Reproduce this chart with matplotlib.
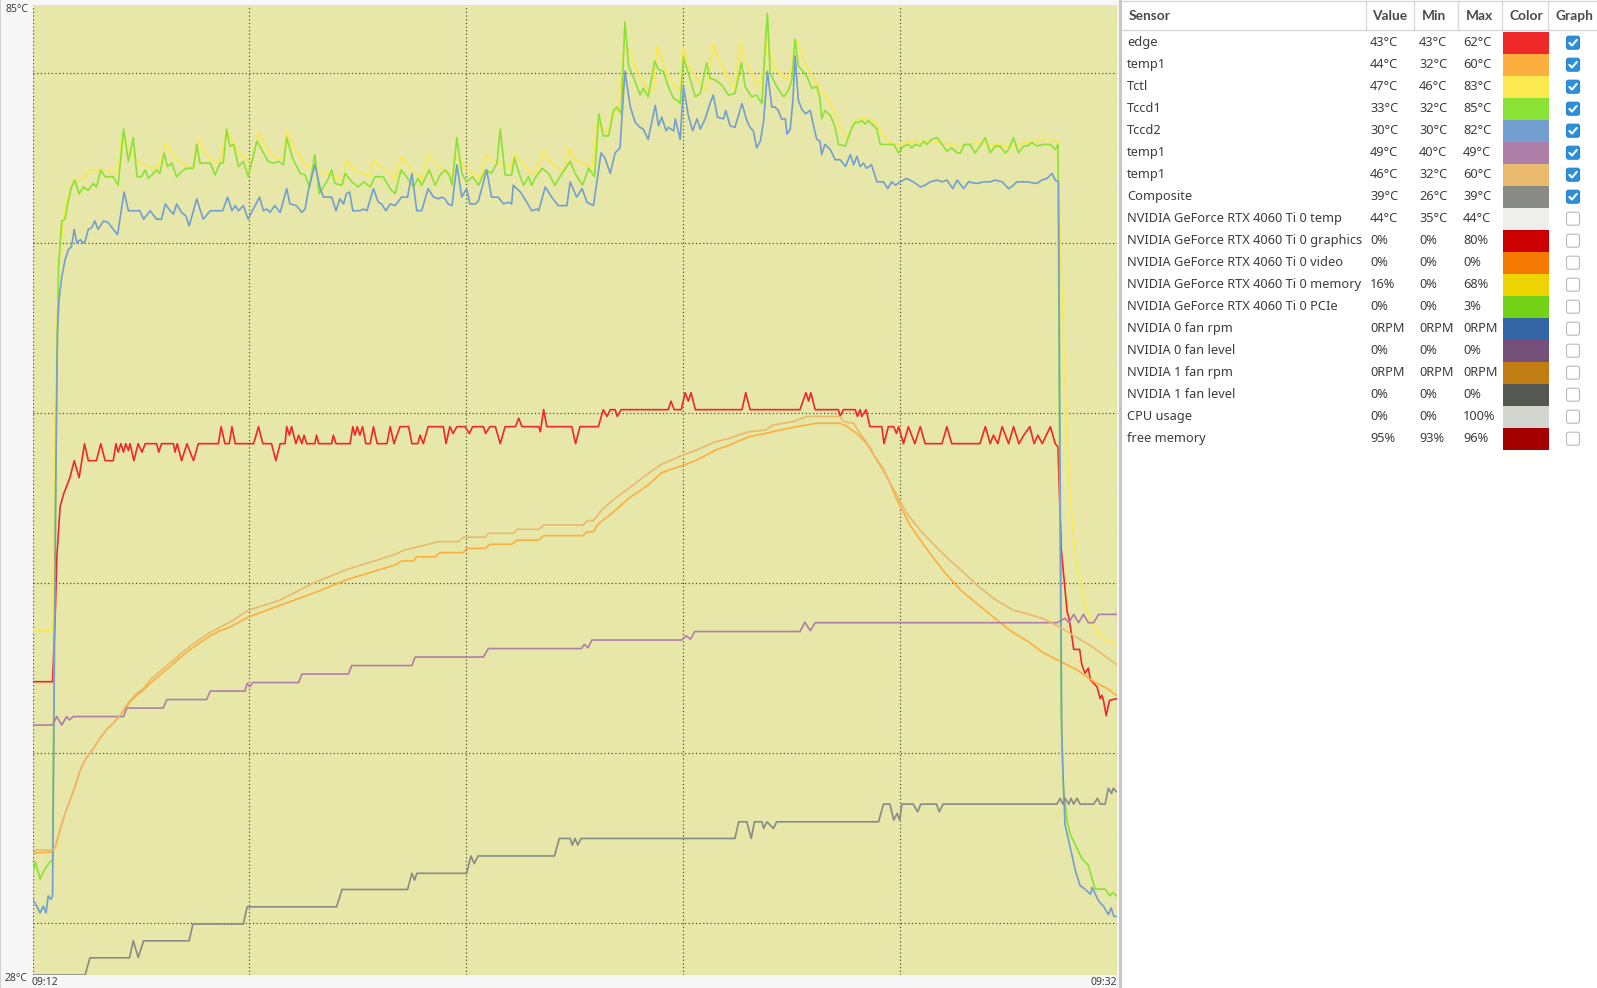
import matplotlib
matplotlib.use("Agg")
import matplotlib.pyplot as plt
from matplotlib.patches import Rectangle, FancyBboxPatch

W, H = 1597, 988
FONT = ['Noto Sans', 'DejaVu Sans']
HFONT = ['Lato', 'DejaVu Sans']
TXT = '#3c3c3c'

# ---------------- data (time in minutes since 09:12, value in °C) ----------------
edge = [(0,45),(0.37,45),(0.42,49),(0.45,52.4),(0.51,55.3),(0.57,56),(0.63,56.5),(0.69,57),(0.77,58),(0.86,57),(0.96,59),(1.03,58),(1.18,58),(1.26,59),(1.34,58),(1.49,58),(1.54,59),(1.58,58.5),(1.63,59),(1.68,58.5),(1.72,59),(1.77,58.6),(1.80,59),(1.87,58),(1.95,59),(2.02,58.5),(2.08,59),(2.29,59),(2.33,58.5),(2.38,59),(2.60,59),(2.63,58.5),(2.67,59),(2.75,58),(2.85,59),(2.97,58),(3.06,59),(3.43,59),(3.48,60),(3.55,59),(3.63,59),(3.68,60),(3.74,59),(4.08,59),(4.17,60),(4.25,59),(4.41,59),(4.49,58),(4.57,59),(4.66,59),(4.69,60),(4.74,59.5),(4.78,60),(4.86,59),(4.91,59.5),(4.97,59),(5.01,59.5),(5.06,59),(5.21,59),(5.24,59.5),(5.28,59),(5.52,59),(5.55,59.5),(5.60,59),(5.86,59),(5.91,60),(5.95,59.5),(5.99,60),(6.04,59.5),(6.09,60),(6.15,59),(6.23,59),(6.29,60),(6.36,59),(6.54,59),(6.60,60),(6.67,59),(6.78,60),(6.94,60),(7.00,59),(7.11,59),(7.15,59.5),(7.21,59),(7.30,60),(7.58,60),(7.63,59),(7.70,60),(7.76,59.6),(7.83,60),(7.98,60),(8.06,59.6),(8.12,60),(8.32,60),(8.36,59.6),(8.44,60),(8.54,60),(8.63,59),(8.72,60),(8.91,60),(8.97,60.5),(9.03,60),(9.34,60),(9.37,59.7),(9.43,61),(9.49,60),(9.95,60),(10.02,59),(10.10,60),(10.44,60),(10.53,61),(10.60,60.6),(10.66,61),(10.75,61),(10.79,60.6),(10.86,61),(11.73,61),(11.78,61.5),(11.84,61),(11.97,61),(12.04,62),(12.10,61.5),(12.15,62),(12.23,61),(13.09,61),(13.16,62),(13.24,61),(14.16,61),(14.27,62),(14.32,61.5),(14.36,62),(14.44,61),(14.87,61),(14.90,60.6),(14.96,61),(15.18,61),(15.22,60.6),(15.27,61),(15.30,60.6),(15.38,61),(15.45,60),(15.67,60),(15.71,59),(15.79,60),(15.89,60),(15.94,59.6),(15.98,60),(16.07,59),(16.16,60),(16.28,59),(16.38,60),(16.47,59),(16.78,59),(16.87,60),(16.96,59),(17.48,59),(17.58,60),(17.67,59),(17.73,59.5),(17.81,59),(17.89,60),(18.01,59),(18.10,60),(18.20,59),(18.29,59.5),(18.40,60),(18.48,59),(18.55,59.5),(18.63,59),(18.78,60),(18.87,59),(18.92,58.8),(18.98,52.8),(19.09,49.1),(19.12,48.8),(19.18,47.6),(19.21,46.9),(19.32,46.9),(19.36,46.0),(19.42,45.5),(19.48,45.8),(19.52,45.1),(19.64,44.7),(19.70,44.0),(19.73,44.2),(19.76,43.9),(19.81,43.0),(19.87,43.9),(20.0,44)]

temp1_a = [(0,34.9),(0.37,35.0),(0.42,35.3),(0.51,36.3),(0.60,37.25),(0.69,38.0),(0.78,38.8),(0.88,39.8),(0.97,40.4),(1.06,40.8),(1.15,41.2),(1.25,41.7),(1.37,42.2),(1.49,42.55),(1.61,43.0),(1.71,43.4),(1.80,43.8),(1.92,44.2),(2.05,44.5),(2.17,44.9),(2.35,45.4),(2.54,45.9),(2.72,46.4),(2.91,46.9),(3.09,47.3),(3.28,47.7),(3.46,48.0),(3.64,48.2),(3.98,48.8),(4.57,49.5),(5.18,50.2),(5.80,51.0),(6.41,51.6),(6.69,51.86),(6.81,52.1),(7.03,52.1),(7.09,52.35),(7.43,52.35),(7.52,52.59),(7.95,52.59),(8.01,52.84),(8.35,52.84),(8.44,53.08),(8.84,53.08),(8.94,53.33),(9.34,53.33),(9.43,53.59),(10.16,53.59),(10.23,53.82),(10.35,53.82),(10.44,54.3),(10.69,54.9),(11.00,55.78),(11.36,56.57),(11.61,57.3),(11.98,57.7),(12.23,58.0),(12.59,58.6),(12.84,58.9),(13.21,59.4),(13.52,59.6),(13.79,59.8),(14.10,60.0),(14.47,60.2),(14.90,60.2),(15.03,60.0),(15.21,59.6),(15.39,59.0),(15.55,58.2),(15.70,57.5),(15.79,56.9),(15.95,55.7),(16.19,54.2),(16.50,52.8),(16.81,51.5),(17.12,50.4),(17.42,49.6),(17.73,48.8),(18.04,48.0),(18.35,47.4),(18.65,46.7),(18.96,46.2),(19.27,45.7),(19.58,45.0),(19.83,44.6),(20.0,44.2)]

tctl = [(0,48),(0.37,48),(0.41,60),(0.45,66),(0.50,70),(0.57,72.2),(0.63,73.3),(0.72,74.1),(0.82,74.5),(0.94,74.6),(1.06,75.1),(1.18,75.1),(1.28,75.1),(1.43,75.1),(1.58,74.9),(1.65,77.1),(1.74,76.5),(1.86,75.9),(1.98,75.5),(2.11,75.3),(2.29,75.2),(2.41,75.9),(2.45,76.7),(2.54,76.3),(2.66,75.7),(2.84,75.3),(2.97,75.2),(3.06,76.9),(3.18,76.1),(3.31,75.7),(3.46,75.5),(3.58,77.4),(3.68,76.9),(3.80,76.1),(3.98,75.7),(4.04,75.5),(4.17,77.3),(4.26,76.7),(4.38,76.1),(4.51,75.8),(4.63,75.8),(4.69,77.4),(4.81,76.5),(4.94,75.9),(5.06,75.3),(5.18,75.2),(5.31,75.0),(5.49,74.8),(5.61,74.7),(5.74,74.4),(5.79,75.7),(5.89,75.3),(6.01,74.9),(6.11,74.9),(6.23,74.7),(6.30,75.7),(6.41,75.3),(6.54,75.0),(6.69,74.5),(6.80,75.9),(6.94,75.3),(7.06,74.9),(7.18,74.5),(7.30,76.0),(7.43,75.5),(7.55,75.1),(7.67,75.0),(7.74,74.5),(7.80,75.9),(7.92,75.5),(8.04,75.1),(8.17,74.8),(8.26,74.6),(8.38,76.0),(8.47,75.7),(8.66,75.5),(8.81,75.2),(8.90,76.0),(9.03,75.5),(9.15,75.1),(9.27,74.8),(9.43,76.2),(9.52,75.7),(9.70,75.2),(9.83,75.0),(9.90,76.4),(10.01,75.7),(10.14,75.5),(10.32,75.2),(10.41,77.8),(10.55,77.5),(10.63,77.3),(10.69,78.4),(10.81,78.6),(10.90,82.0),(11.00,82.2),(11.12,81.2),(11.24,80.4),(11.36,79.8),(11.46,79.8),(11.52,82.4),(11.61,81.6),(11.73,80.6),(11.86,80.0),(11.95,79.7),(12.01,82.3),(12.10,81.2),(12.23,80.6),(12.35,80.0),(12.44,79.8),(12.56,82.5),(12.66,81.6),(12.78,80.8),(12.90,80.2),(12.96,79.8),(13.06,82.6),(13.15,81.6),(13.27,80.8),(13.40,80.0),(13.49,81.0),(13.55,82.7),(13.67,81.2),(13.79,80.8),(13.92,80.4),(14.01,81.2),(14.07,82.7),(14.13,82.6),(14.22,81.6),(14.35,80.8),(14.47,80.2),(14.56,79.6),(14.66,79.4),(14.78,78.6),(14.90,77.6),(15.03,76.9),(15.12,77.6),(15.18,78.0),(15.27,78.1),(15.39,78.1),(15.51,78.0),(15.61,77.6),(15.70,77.1),(15.82,76.7),(15.95,76.6),(16.13,76.7),(16.25,76.8),(16.38,76.7),(16.50,76.8),(16.75,76.7),(16.93,76.6),(17.12,76.5),(17.24,76.6),(17.42,76.7),(17.73,76.6),(17.98,76.5),(18.16,76.5),(18.29,76.7),(18.47,76.8),(18.65,76.9),(18.78,76.9),(18.92,76.7),(18.96,71.4),(19.02,65.5),(19.08,59.6),(19.12,57.2),(19.18,54.5),(19.24,52.5),(19.33,51.0),(19.42,49.6),(19.52,48.6),(19.64,47.9),(19.83,47.4),(20.0,47.2)]

tccd1 = [(0,33.6),(0.05,34.4),(0.14,33.4),(0.23,34.0),(0.32,34.4),(0.37,34.5),(0.41,50),(0.45,63.5),(0.48,69.4),(0.54,72.1),(0.60,72.2),(0.66,73.3),(0.72,74.1),(0.78,74.5),(0.86,73.7),(0.94,74.1),(1.03,73.9),(1.12,74.3),(1.18,74.1),(1.26,75.1),(1.34,74.7),(1.49,74.7),(1.58,74.2),(1.68,77.5),(1.77,75.6),(1.86,77.0),(1.93,74.7),(2.01,74.7),(2.08,75.1),(2.14,74.6),(2.29,75.1),(2.35,74.9),(2.43,76.1),(2.49,75.3),(2.57,75.5),(2.66,74.7),(2.75,75.0),(2.84,75.2),(2.97,75.2),(3.03,76.6),(3.09,75.5),(3.18,75.5),(3.28,75.5),(3.37,74.8),(3.46,75.5),(3.52,75.5),(3.58,77.5),(3.64,76.5),(3.71,76.6),(3.80,75.3),(3.89,75.6),(3.98,74.7),(4.04,75.5),(4.14,76.8),(4.26,76.1),(4.35,75.6),(4.44,75.5),(4.54,75.6),(4.63,75.4),(4.69,77.0),(4.81,75.7),(4.94,74.9),(5.03,74.8),(5.11,74.1),(5.21,76.0),(5.29,73.7),(5.37,74.1),(5.46,74.6),(5.52,75.1),(5.58,74.3),(5.71,74.2),(5.77,74.9),(5.89,74.4),(6.01,74.1),(6.11,74.4),(6.23,74.1),(6.32,74.7),(6.47,74.7),(6.60,74.0),(6.69,73.7),(6.80,75.1),(6.90,74.7),(7.03,74.1),(7.11,74.6),(7.18,74.2),(7.32,75.1),(7.43,74.2),(7.52,74.8),(7.61,75.1),(7.69,74.8),(7.74,74.2),(7.83,77.0),(7.92,74.9),(8.01,74.4),(8.12,74.7),(8.23,74.2),(8.36,75.1),(8.47,74.9),(8.57,75.5),(8.63,77.5),(8.72,74.8),(8.84,74.8),(8.89,75.8),(9.00,74.7),(9.06,74.2),(9.15,74.7),(9.21,74.2),(9.27,74.6),(9.40,75.2),(9.52,74.9),(9.64,74.2),(9.77,74.9),(9.92,75.6),(10.01,74.9),(10.15,74.2),(10.26,75.2),(10.37,74.7),(10.45,78.4),(10.53,77.1),(10.63,77.1),(10.72,78.6),(10.78,78.8),(10.86,78.4),(10.93,83.8),(11.00,81.2),(11.12,80.3),(11.21,79.5),(11.27,79.9),(11.36,79.4),(11.48,81.5),(11.55,81.0),(11.64,80.9),(11.73,80.0),(11.83,79.3),(11.89,79.2),(11.95,79.0),(12.01,81.7),(12.10,80.8),(12.23,79.4),(12.32,79.6),(12.44,81.4),(12.50,80.5),(12.59,80.4),(12.72,80.1),(12.84,79.5),(12.96,79.6),(13.08,81.4),(13.15,80.0),(13.27,79.4),(13.36,79.5),(13.46,79.0),(13.51,82.0),(13.56,84.3),(13.61,80.8),(13.73,80.0),(13.86,79.4),(13.95,79.8),(14.01,80.4),(14.07,82.8),(14.13,81.2),(14.19,81.0),(14.29,80.6),(14.38,79.9),(14.47,80.0),(14.53,79.3),(14.56,78.1),(14.62,78.6),(14.72,78.3),(14.81,77.6),(14.87,76.6),(15.00,76.5),(15.04,76.9),(15.12,77.6),(15.18,77.9),(15.24,77.9),(15.30,78.0),(15.36,77.8),(15.42,78.0),(15.49,77.8),(15.58,77.5),(15.64,76.6),(15.89,76.6),(15.98,76.1),(16.07,76.5),(16.16,76.6),(16.22,76.4),(16.29,76.6),(16.38,76.5),(16.44,76.8),(16.50,76.6),(16.59,76.9),(16.69,77.0),(16.78,76.6),(16.87,76.2),(16.96,76.4),(17.06,76.1),(17.12,76.1),(17.19,76.6),(17.30,76.6),(17.39,76.1),(17.48,76.5),(17.58,77.0),(17.67,76.1),(17.76,76.5),(17.85,76.5),(17.95,76.1),(18.01,76.3),(18.10,77.0),(18.19,76.1),(18.29,76.5),(18.35,76.5),(18.44,76.7),(18.53,76.5),(18.65,76.6),(18.78,76.6),(18.87,76.3),(18.92,76.6),(18.95,58),(18.98,43),(19.02,38.8),(19.09,36.8),(19.15,36.0),(19.27,35.2),(19.36,34.6),(19.48,34.2),(19.55,33.4),(19.61,32.8),(19.79,32.8),(19.88,32.4),(19.93,32.6),(20.0,32.4)]

tccd2 = [(0,32.2),(0.08,31.8),(0.14,31.4),(0.20,31.8),(0.25,31.4),(0.29,32.4),(0.34,32.2),(0.37,32.4),(0.40,45),(0.43,56.9),(0.46,65.5),(0.49,67.5),(0.54,68.8),(0.60,69.8),(0.66,70.4),(0.72,70.6),(0.77,71.6),(0.82,70.8),(0.88,71.0),(0.93,70.8),(0.97,70.9),(1.03,71.6),(1.09,71.7),(1.15,72.1),(1.21,71.6),(1.31,72.1),(1.40,72.0),(1.49,71.6),(1.57,71.3),(1.69,73.8),(1.77,72.7),(1.98,72.7),(2.05,72.2),(2.17,72.7),(2.29,72.2),(2.38,72.2),(2.45,73.1),(2.54,72.7),(2.60,72.5),(2.66,73.1),(2.75,72.6),(2.83,72.4),(2.89,71.8),(2.97,72.7),(3.03,73.4),(3.09,72.8),(3.15,72.2),(3.28,72.7),(3.51,72.7),(3.60,73.5),(3.68,72.7),(3.74,73.0),(3.80,72.7),(3.89,73.0),(3.98,72.2),(4.04,72.6),(4.19,73.5),(4.26,72.7),(4.32,72.8),(4.38,72.6),(4.47,73.0),(4.57,72.6),(4.69,74.0),(4.75,73.1),(4.87,73.0),(4.97,72.6),(5.03,72.8),(5.09,73.9),(5.21,75.4),(5.31,74.0),(5.37,73.5),(5.52,73.5),(5.60,72.7),(5.67,73.4),(5.74,73.1),(5.79,73.7),(5.85,73.8),(5.91,72.7),(6.04,72.7),(6.11,72.8),(6.17,72.7),(6.29,74.0),(6.38,73.2),(6.44,73.1),(6.52,72.7),(6.60,73.1),(6.69,73.0),(6.81,73.5),(6.92,73.5),(7.00,74.9),(7.09,72.7),(7.18,72.7),(7.30,74.0),(7.40,73.5),(7.49,73.4),(7.55,73.5),(7.61,73.4),(7.67,73.1),(7.74,73.0),(7.83,75.4),(7.92,73.5),(8.01,74.0),(8.07,73.1),(8.17,73.1),(8.23,73.3),(8.38,75.1),(8.47,73.5),(8.59,73.5),(8.69,73.1),(8.78,73.2),(8.84,73.1),(8.87,74.2),(9.00,73.8),(9.12,73.2),(9.21,72.7),(9.31,72.8),(9.34,72.7),(9.46,74.1),(9.58,73.5),(9.70,73.0),(9.86,73.0),(9.92,74.4),(10.04,73.5),(10.14,74.0),(10.23,73.2),(10.35,73.0),(10.49,76.1),(10.56,75.8),(10.66,74.9),(10.75,76.1),(10.84,76.4),(10.93,80.9),(11.03,78.8),(11.12,77.9),(11.21,77.6),(11.27,77.5),(11.36,76.9),(11.49,78.9),(11.55,77.7),(11.61,78.2),(11.69,77.4),(11.73,77.6),(11.83,77.4),(11.86,78.1),(11.95,76.9),(12.01,80.0),(12.10,78.3),(12.18,77.4),(12.26,78.1),(12.32,77.5),(12.41,78.1),(12.50,79.0),(12.56,79.5),(12.64,78.2),(12.75,78.1),(12.79,78.6),(12.87,77.7),(12.96,77.6),(13.09,79.0),(13.18,78.0),(13.24,77.6),(13.30,77.4),(13.36,76.4),(13.43,76.8),(13.49,78.0),(13.56,80.9),(13.64,78.8),(13.70,78.8),(13.76,78.6),(13.82,78.1),(13.89,78.1),(13.92,77.2),(13.98,77.5),(14.03,79.2),(14.07,81.8),(14.13,79.2),(14.19,78.7),(14.26,78.4),(14.35,78.6),(14.41,77.7),(14.47,76.9),(14.53,76.8),(14.56,76.0),(14.62,76.6),(14.72,76.3),(14.81,75.7),(14.90,75.7),(15.00,75.3),(15.09,76.0),(15.15,75.4),(15.21,75.9),(15.27,75.3),(15.33,75.5),(15.39,75.2),(15.48,75.4),(15.58,74.4),(15.70,74.4),(15.78,74.0),(15.85,74.4),(15.92,74.2),(16.01,74.4),(16.13,74.6),(16.25,74.4),(16.38,74.1),(16.47,74.2),(16.56,74.4),(16.69,74.5),(16.78,74.4),(16.87,74.5),(16.98,74.0),(17.06,74.5),(17.18,74.0),(17.27,74.4),(17.42,74.3),(17.55,74.4),(17.67,74.4),(17.76,74.5),(17.89,74.4),(18.01,74.0),(18.10,74.2),(18.16,74.4),(18.35,74.4),(18.53,74.3),(18.62,74.5),(18.72,74.6),(18.81,74.9),(18.87,74.5),(18.93,74.4),(18.96,57),(18.99,42),(19.01,39.8),(19.05,36.6),(19.15,35.2),(19.24,33.9),(19.33,33.0),(19.42,32.8),(19.52,32.5),(19.55,32.9),(19.61,32.5),(19.67,32.1),(19.76,31.8),(19.85,31.3),(19.90,31.7),(19.95,31.2),(20.0,31.2)]

temp1_b = [(0,42.45),(0.37,42.45),(0.45,42.95),(0.54,42.45),(0.63,42.95),(0.68,42.75),(0.75,42.95),(1.68,42.95),(1.74,43.45),(2.41,43.45),(2.48,43.95),(3.21,43.95),(3.28,44.45),(3.92,44.45),(3.96,44.9),(4.01,44.7),(4.06,44.95),(4.91,44.95),(4.97,45.45),(5.83,45.45),(5.89,45.95),(7.00,45.95),(7.06,46.45),(8.32,46.45),(8.41,46.95),(10.13,46.95),(10.18,47.2),(10.25,47.0),(10.32,47.45),(11.98,47.45),(12.06,47.7),(12.14,47.5),(12.22,47.95),(14.16,47.95),(14.25,48.5),(14.35,48.0),(14.44,48.47),(18.90,48.47),(19.05,48.73),(19.12,48.47),(19.21,48.96),(19.30,48.47),(19.39,48.96),(19.48,48.47),(19.58,48.47),(19.67,48.96),(20.0,48.96)]

temp1_c = [(0,34.9),(0.08,35.1),(0.37,35.1),(0.42,35.3),(0.51,36.3),(0.60,37.25),(0.69,38.0),(0.78,38.8),(0.88,39.8),(0.97,40.4),(1.06,40.8),(1.15,41.2),(1.25,41.7),(1.37,42.2),(1.49,42.55),(1.61,43.0),(1.71,43.5),(1.80,43.9),(1.92,44.3),(2.05,44.6),(2.17,45.1),(2.35,45.6),(2.54,46.1),(2.72,46.6),(2.91,47.1),(3.09,47.5),(3.28,47.9),(3.46,48.2),(3.64,48.5),(3.98,49.2),(4.57,49.8),(5.18,50.8),(5.80,51.6),(6.41,52.2),(6.69,52.5),(6.87,52.75),(7.18,52.98),(7.49,53.24),(7.86,53.24),(7.95,53.5),(8.35,53.5),(8.41,53.73),(8.87,53.73),(8.94,53.96),(9.34,53.96),(9.43,54.22),(10.16,54.22),(10.24,54.47),(10.35,54.47),(10.53,55.2),(10.75,55.78),(11.00,56.37),(11.36,57.25),(11.61,57.8),(11.98,58.3),(12.23,58.6),(12.59,59.1),(12.84,59.3),(13.21,59.7),(13.52,59.8),(13.67,60.1),(14.04,60.3),(14.29,60.6),(14.90,60.6),(14.96,60.3),(15.15,60.2),(15.27,59.6),(15.45,58.8),(15.58,58.0),(15.70,57.4),(15.89,56.3),(16.13,54.9),(16.38,53.9),(16.62,53.1),(16.87,52.3),(17.12,51.6),(17.42,50.7),(17.73,49.9),(18.10,49.2),(18.35,49.0),(18.65,48.7),(18.96,48.2),(19.27,47.6),(19.58,47.0),(19.83,46.4),(20.0,46.0)]

composite = [(0,27.75),(0.97,27.75),(1.06,28.76),(1.79,28.76),(1.86,29.76),(1.95,28.78),(2.05,29.76),(2.89,29.76),(2.96,30.75),(3.89,30.75),(3.96,31.76),(5.61,31.76),(5.71,32.78),(6.92,32.78),(7.00,33.73),(7.05,33.33),(7.09,33.73),(8.01,33.73),(8.09,34.75),(8.15,34.3),(8.22,34.75),(9.63,34.75),(9.72,35.78),(9.92,35.78),(9.96,35.39),(10.01,35.78),(10.06,35.39),(10.12,35.78),(12.96,35.78),(13.03,36.76),(13.18,36.76),(13.26,35.78),(13.32,36.76),(13.46,36.76),(13.49,36.37),(13.55,36.76),(13.67,36.37),(13.73,36.76),(15.61,36.76),(15.70,37.8),(15.82,37.8),(15.89,36.86),(15.95,37.25),(16.00,36.86),(16.04,37.8),(16.25,37.8),(16.33,37.35),(16.39,37.8),(16.68,37.8),(16.73,37.35),(16.80,37.8),(18.90,37.8),(18.96,38.14),(19.01,37.8),(19.05,38.14),(19.12,37.8),(19.16,38.14),(19.21,37.8),(19.27,38.14),(19.33,37.8),(19.58,37.8),(19.65,38.14),(19.70,37.8),(19.79,37.8),(19.85,38.73),(19.91,38.43),(19.94,38.73),(20.0,38.53)]

graphed = [edge, temp1_a, tctl, tccd1, tccd2, temp1_b, temp1_c, composite]

# sensor table
names = ['edge', 'temp1', 'Tctl', 'Tccd1', 'Tccd2', 'temp1', 'temp1', 'Composite',
         'NVIDIA GeForce RTX 4060 Ti 0 temp', 'NVIDIA GeForce RTX 4060 Ti 0 graphics',
         'NVIDIA GeForce RTX 4060 Ti 0 video', 'NVIDIA GeForce RTX 4060 Ti 0 memory',
         'NVIDIA GeForce RTX 4060 Ti 0 PCIe', 'NVIDIA 0 fan rpm', 'NVIDIA 0 fan level',
         'NVIDIA 1 fan rpm', 'NVIDIA 1 fan level', 'CPU usage', 'free memory']
values = ['43°C', '44°C', '47°C', '33°C', '30°C', '49°C', '46°C', '39°C', '44°C', '0%', '0%',
          '16%', '0%', '0RPM', '0%', '0RPM', '0%', '0%', '95%']
mins = ['43°C', '32°C', '46°C', '32°C', '30°C', '40°C', '32°C', '26°C', '35°C', '0%', '0%',
        '0%', '0%', '0RPM', '0%', '0RPM', '0%', '0%', '93%']
maxs = ['62°C', '60°C', '83°C', '85°C', '82°C', '49°C', '60°C', '39°C', '44°C', '80%', '0%',
        '68%', '3%', '0RPM', '0%', '0RPM', '0%', '100%', '96%']
colors = ['#ef2929', '#fcaf3e', '#fce94f', '#8ae234', '#729fcf', '#ad7fa8', '#e9b96e', '#888a85',
          '#eeeeec', '#cc0000', '#f57900', '#edd400', '#73d216', '#3465a4', '#75507b',
          '#c17d11', '#555753', '#d3d7cf', '#a40000']
shown = [True] * 8 + [False] * 11
headers = ['Sensor', 'Value', 'Min', 'Max', 'Color', 'Graph']

Y_MIN_LABEL, Y_MAX_LABEL = '28°C', '85°C'
T_START, T_END = '09:12', '09:32'

# ---------------- figure ----------------
fig = plt.figure(figsize=(W / 100, H / 100), dpi=100, facecolor='#f7f7f7')
renderer = fig.canvas.get_renderer()


def fit_size(text, target_px, family=FONT, weight='normal'):
    probe = fig.text(0, 0, text, fontsize=10, family=family, weight=weight)
    w = probe.get_window_extent(renderer).width
    probe.remove()
    return 10 * target_px / w


fs_tab = fit_size('NVIDIA GeForce RTX 4060 Ti 0 memory', 233.5)
fs_head = fit_size('Sensor', 42.0, family=HFONT, weight='bold')
fs_axis = fit_size('09:12', 26.5)

# overlay in pixel coordinates (for table and frame elements)
ov = fig.add_axes([0, 0, 1, 1], zorder=0)
ov.set_xlim(0, W)
ov.set_ylim(H, 0)
ov.axis('off')

# graph axes
ax = fig.add_axes([32.5 / W, (H - 975) / H, (1116.5 - 32.5) / W, 970 / H], zorder=2)
ax.set_facecolor('#e7e7a9')
ax.set_xlim(0, 20)
ax.set_ylim(27.75, 84.8)
for s in ax.spines.values():
    s.set_visible(False)
ax.set_xticks([0, 4, 8, 12, 16, 20])
ax.set_yticks([30.8, 40.8, 50.8, 60.8, 70.8, 80.8])
ax.tick_params(length=0, labelbottom=False, labelleft=False)
ax.grid(True, color='#47473a', linewidth=0.85, linestyle=(0, (1, 2.1)))
ax.set_axisbelow(True)

for data, c in zip(graphed, colors[:8]):
    t = [p[0] for p in data]
    v = [p[1] for p in data]
    ax.plot(t, v, color=c, lw=1.2, solid_joinstyle='round', solid_capstyle='round')

# axis labels
fig.text(5 / W, 1 - 9.5 / H, Y_MAX_LABEL, fontsize=fs_axis, family=FONT, color=TXT, va='center', ha='left')
fig.text(5 / W, 1 - 978.5 / H, Y_MIN_LABEL, fontsize=fs_axis, family=FONT, color=TXT, va='center', ha='left')
fig.text(32 / W, 1 - 982.5 / H, T_START, fontsize=fs_axis, family=FONT, color=TXT, va='center', ha='left')
fig.text(1117 / W, 1 - 982.5 / H, T_END, fontsize=fs_axis, family=FONT, color=TXT, va='center', ha='right')

# frame elements
ov.add_patch(Rectangle((0, 0), 1.2, H, color='#d2d2d2', lw=0))
ov.add_patch(Rectangle((1122, 0), W - 1122, H, color='white', lw=0))
ov.add_patch(Rectangle((1119, 0), 3, H, color='#c6c6c6', lw=0))

# table header
ov.plot([1122, W], [1.2, 1.2], color='#d6d6d6', lw=1)
ov.plot([1122, W], [30.2, 30.2], color='#d6d6d6', lw=1)
for xs in [1365.7, 1414.3, 1458.3, 1502.3, 1548.3]:
    ov.plot([xs, xs], [1.5, 30], color='#dadada', lw=1)
hx = [1128.5, 1372.3, 1421.7, 1465.7, 1509.3, 1555]
for x, h in zip(hx, headers):
    ov.text(x, 16, h, fontsize=fs_head, family=HFONT, weight='bold', color='#4a4a4a', va='center', ha='left')

# table rows
ROW0, ROWH = 42.7, 22.0
for i, (n, v, mn, mx, c, g) in enumerate(zip(names, values, mins, maxs, colors, shown)):
    yc = ROW0 + ROWH * i
    ov.text(1127.3, yc, n, fontsize=fs_tab, family=FONT, color=TXT, va='center', ha='left')
    ov.text(1370, yc, v, fontsize=fs_tab, family=FONT, color=TXT, va='center', ha='left')
    ov.text(1419, yc, mn, fontsize=fs_tab, family=FONT, color=TXT, va='center', ha='left')
    ov.text(1463, yc, mx, fontsize=fs_tab, family=FONT, color=TXT, va='center', ha='left')
    ov.add_patch(Rectangle((1503.3, yc - 11), 45.8, 22, color=c, lw=0))
    cx = 1573
    if g:
        ov.add_patch(FancyBboxPatch((cx - 6.5, yc - 6.5), 13, 13,
                                    boxstyle='round,pad=0,rounding_size=2.2',
                                    fc='#2d8fdc', ec='#2683cc', lw=0.8))
        ov.plot([cx - 3.6, cx - 1.0, cx + 3.8], [yc + 0.2, yc + 2.8, yc - 2.8],
                color='white', lw=1.5, solid_capstyle='round', solid_joinstyle='round')
    else:
        ov.add_patch(FancyBboxPatch((cx - 6.5, yc - 6.5), 13, 13,
                                    boxstyle='round,pad=0,rounding_size=2.2',
                                    fc='white', ec='#b9b9b9', lw=0.8))

fig.savefig('out.png', dpi=100, facecolor=fig.get_facecolor())
